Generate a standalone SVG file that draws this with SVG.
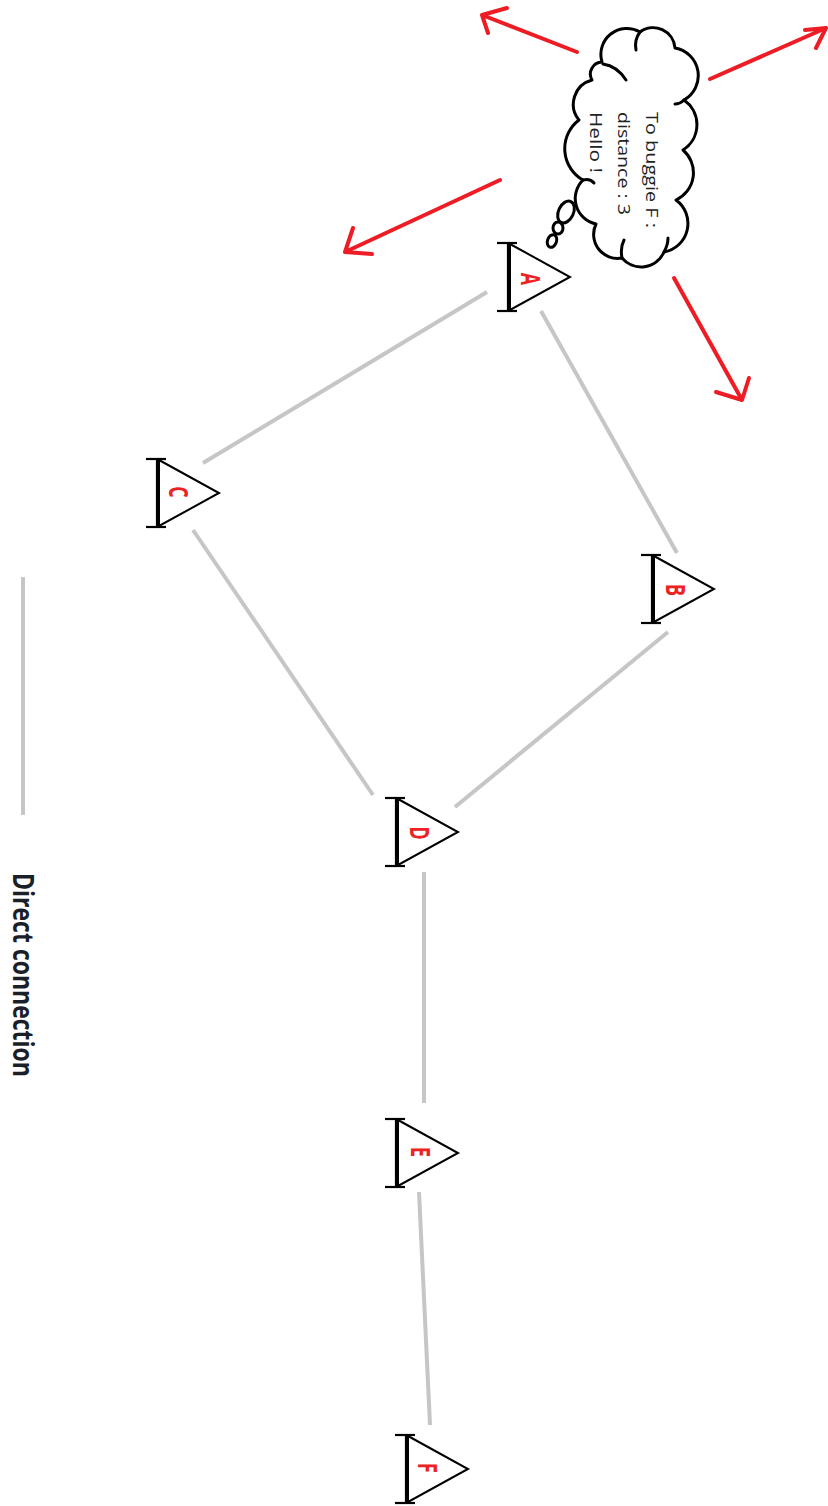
<svg xmlns="http://www.w3.org/2000/svg" xmlns:xlink="http://www.w3.org/1999/xlink" width="828" height="1506" viewBox="0 0 828 1506">
  <style>
    .link { stroke: #c6c6c6; stroke-width: 4; fill: none; }
    .beam { stroke: #000; stroke-width: 2.2; fill: none; }
    .body { stroke: #000; stroke-width: 2; fill: #fff; stroke-linejoin: miter; }
    .tag { font-family: "Open Sans", "Liberation Sans", sans-serif; font-weight: bold; font-size: 27px; fill: #ee2222; text-anchor: middle; }
    .say { font-family: "Open Sans", "Liberation Sans", sans-serif; font-size: 17px; fill: #222; }
    .legend-text { font-family: "Open Sans", "Liberation Sans", sans-serif; font-weight: bold; font-size: 28px; fill: #1a1f2a; }
    .ping { stroke: #ee1c24; stroke-width: 4; fill: none; stroke-linecap: round; stroke-linejoin: round; }
    .cloud { stroke: #000; stroke-width: 3; fill: #fff; stroke-linejoin: round; }
    .curl { stroke: #000; stroke-width: 3; fill: none; stroke-linecap: round; }
  </style>
  <defs>
    <!-- buggy symbol: I-beam antenna with a triangle pointing right -->
    <g id="buggy">
      <polygon class="body" points="2,-33 62,0 2,33"/>
      <line class="beam" x1="0" y1="-34" x2="0" y2="34"/>
      <line class="beam" x1="-11" y1="-34" x2="9" y2="-34"/>
      <line class="beam" x1="-11" y1="34" x2="9" y2="34"/>
    </g>
  </defs>

  <rect width="828" height="1506" fill="#fff"/>

  <!-- connections -->
  <g id="connectors">
    <line class="link" x1="487" y1="292" x2="203" y2="463"/>
    <line class="link" x1="541" y1="311" x2="677" y2="553"/>
    <line class="link" x1="193" y1="530" x2="373" y2="795"/>
    <line class="link" x1="668" y1="632" x2="455" y2="807"/>
    <line class="link" x1="424" y1="872" x2="424" y2="1103"/>
    <line class="link" x1="419" y1="1192" x2="430" y2="1425"/>
  </g>

  <!-- broadcast arrows around A -->
  <g id="broadcast">
    <path class="ping" d="M577,52 L482,15 M507,8 L482,15 L488,33"/>
    <path class="ping" d="M710,79 L826,28 M805,30 L826,28 L816,48"/>
    <path class="ping" d="M500,180 L345,252 M353,228 L345,252 L372,254"/>
    <path class="ping" d="M674,278 L742,400 M716,392 L742,400 L749,378"/>
  </g>

  <!-- thought cloud -->
  <g id="cloud">
    <path class="cloud" d="M602,62 A26,26 0 0 1 640,32 A22,22 0 0 1 675,48 A28,28 0 0 1 684,100 A30,30 0 0 1 683,150 A30,30 0 0 1 676,200 A29,29 0 0 1 664,252 A25,25 0 0 1 622,258 A24,24 0 0 1 596,224 A26,26 0 0 1 583,180 A36,36 0 0 1 579,120 A25,25 0 0 1 592,80 A12,12 0 0 1 602,62 Z"/>
    <path class="curl" d="M603,64 Q617,66 626,80"/>
    <path class="curl" d="M640,32 Q634,40 636,50"/>
    <path class="curl" d="M684,100 Q680,104 675,104"/>
    <path class="curl" d="M664,252 Q668,245 668,238"/>
    <path class="curl" d="M622,258 Q620,248 624,240"/>
    <path class="curl" d="M583,180 Q590,178 594,183"/>
    <ellipse class="cloud" cx="566" cy="212" rx="7.5" ry="11.5" transform="rotate(25 566 212)"/>
    <ellipse class="cloud" cx="558" cy="228" rx="5" ry="6"/>
    <ellipse class="cloud" cx="552" cy="241" rx="4.5" ry="6.5" transform="rotate(20 552 241)"/>
    <text class="say" transform="translate(646,112) rotate(90)" textLength="116" lengthAdjust="spacingAndGlyphs">To buggie F :</text>
    <text class="say" transform="translate(618,112) rotate(90)" textLength="103" lengthAdjust="spacingAndGlyphs">distance : 3</text>
    <text class="say" transform="translate(590,112) rotate(90)" textLength="61" lengthAdjust="spacingAndGlyphs">Hello !</text>
  </g>

  <!-- buggies -->
  <g id="node-A">
    <use xlink:href="#buggy" href="#buggy" transform="translate(508,277)"/>
    <text class="tag" transform="translate(521,279) rotate(90) scale(0.66,1)">A</text>
  </g>
  <g id="node-B">
    <use xlink:href="#buggy" href="#buggy" transform="translate(652,589)"/>
    <text class="tag" transform="translate(666,590) rotate(90) scale(0.66,1)">B</text>
  </g>
  <g id="node-C">
    <use xlink:href="#buggy" href="#buggy" transform="translate(157,493)"/>
    <text class="tag" transform="translate(169,492) rotate(90) scale(0.66,1)">C</text>
  </g>
  <g id="node-D">
    <use xlink:href="#buggy" href="#buggy" transform="translate(396,832)"/>
    <text class="tag" transform="translate(410,833) rotate(90) scale(0.66,1)">D</text>
  </g>
  <g id="node-E">
    <use xlink:href="#buggy" href="#buggy" transform="translate(396,1153)"/>
    <text class="tag" transform="translate(411,1152) rotate(90) scale(0.66,1)">E</text>
  </g>
  <g id="node-F">
    <use xlink:href="#buggy" href="#buggy" transform="translate(406,1469)"/>
    <text class="tag" transform="translate(418,1468) rotate(90) scale(0.66,1)">F</text>
  </g>

  <!-- legend -->
  <g id="legend">
    <line class="link" x1="23" y1="577" x2="23" y2="815"/>
    <text class="legend-text" transform="translate(13,873) rotate(90)" textLength="204" lengthAdjust="spacingAndGlyphs">Direct connection</text>
  </g>
</svg>
